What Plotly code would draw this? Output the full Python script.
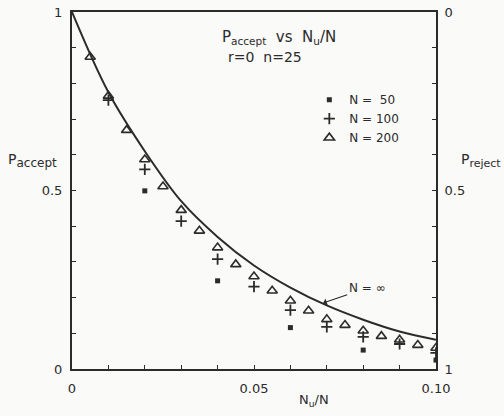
import plotly.graph_objects as go

# ---- data ----
x_200 = [0.005, 0.01, 0.015, 0.02, 0.025, 0.03, 0.035, 0.04, 0.045, 0.05,
         0.055, 0.06, 0.065, 0.07, 0.075, 0.08, 0.085, 0.09, 0.095, 0.10]
y_200 = [0.874, 0.765, 0.669, 0.587, 0.511, 0.445, 0.387, 0.340, 0.293, 0.259,
         0.219, 0.191, 0.163, 0.139, 0.123, 0.107, 0.092, 0.082, 0.067, 0.059]

x_100 = [0.01, 0.02, 0.03, 0.04, 0.05, 0.06, 0.07, 0.08, 0.09, 0.10]
y_100 = [0.753, 0.559, 0.414, 0.308, 0.231, 0.165, 0.118, 0.090, 0.070, 0.045]

x_50 = [0.02, 0.04, 0.06, 0.08, 0.10]
y_50 = [0.499, 0.247, 0.116, 0.053, 0.025]

curve_x = [0.0, 0.01, 0.02, 0.03, 0.04, 0.05, 0.06, 0.07, 0.08, 0.09, 0.10]
curve_y = [1.0, 0.775, 0.61, 0.47, 0.37, 0.29, 0.228, 0.178, 0.138, 0.105, 0.082]

x_tickvals = [0.0, 0.01, 0.02, 0.03, 0.04, 0.05, 0.06, 0.07, 0.08, 0.09, 0.10]
x_ticktext = ["0", "", "", "", "", "0.05", "", "", "", "", "0.10"]
y_tickvals = [0.0, 0.1, 0.2, 0.3, 0.4, 0.5, 0.6, 0.7, 0.8, 0.9, 1.0]
y_ticktext = ["0", "", "", "", "", "0.5", "", "", "", "", "1"]

ink = "#2b2b2b"
bg = "#fafaf8"
font_family = "DejaVu Sans, Liberation Sans, Arial, sans-serif"

fig = go.Figure()

fig.add_trace(go.Scatter(x=curve_x, y=curve_y, mode="lines", line=dict(color=ink, width=2, shape="spline"),
                         showlegend=False, hoverinfo="skip"))
fig.add_trace(go.Scatter(x=x_50, y=y_50, mode="markers", name="N =  50",
                         marker=dict(symbol="square", size=5, color=ink)))
fig.add_trace(go.Scatter(x=x_100, y=y_100, mode="markers", name="N = 100",
                         marker=dict(symbol="cross-thin", size=8, line=dict(color=ink, width=1.8), color=ink)))
fig.add_trace(go.Scatter(x=x_200, y=y_200, mode="markers", name="N = 200",
                         marker=dict(symbol="triangle-up-open", size=9, line=dict(color=ink, width=1.6), color=ink)))
# invisible trace to anchor right axis
fig.add_trace(go.Scatter(x=[curve_x[0]], y=[1 - curve_y[0]], yaxis="y2", mode="markers",
                         marker=dict(opacity=0), showlegend=False, hoverinfo="skip"))

axis_common = dict(showgrid=False, zeroline=False, showline=True, linecolor=ink, linewidth=2,
                   ticks="inside", ticklen=4, tickwidth=1, tickcolor=ink, automargin=False,
                   tickfont=dict(family=font_family, size=13, color=ink))

fig.update_layout(
    width=504, height=416,
    margin=dict(l=72, r=68, t=12, b=47, autoexpand=False),
    paper_bgcolor=bg, plot_bgcolor=bg,
    font=dict(family=font_family, size=12, color=ink),
    xaxis=dict(range=[0, 0.10], tickvals=x_tickvals, ticktext=x_ticktext, mirror=True,
               ticklabelstandoff=6, **axis_common),
    yaxis=dict(range=[0, 1], tickvals=y_tickvals, ticktext=y_ticktext, mirror=True,
               ticklabelstandoff=5, **axis_common),
    yaxis2=dict(range=[1, 0], tickvals=y_tickvals, ticktext=y_ticktext, overlaying="y", side="right",
                ticklabelstandoff=4, **axis_common),
    legend=dict(x=0.652, y=0.795, xanchor="left", yanchor="top", bgcolor="rgba(0,0,0,0)",
                font=dict(family=font_family, size=12, color=ink), tracegroupgap=0),
    showlegend=True,
)

fig.add_annotation(text="P<sub>accept</sub>&nbsp; vs &nbsp;N<sub>u</sub>/N", x=(279 - 72) / 364, y=(369 - 26) / 357,
                   xref="paper", yref="paper", showarrow=False, font=dict(size=15, color=ink))
fig.add_annotation(text="r=0  n=25", x=(265 - 72) / 364, y=(369 - 47) / 357,
                   xref="paper", yref="paper", showarrow=False, font=dict(size=14, color=ink))
fig.add_annotation(text="P<sub><span style='font-size:12px'>accept</span></sub>", x=(6 - 72) / 364, y=(369 - 160) / 357,
                   xref="paper", yref="paper", xanchor="left", showarrow=False, font=dict(size=14, color=ink))
fig.add_annotation(text="P<sub><span style='font-size:11px'>reject</span></sub>", x=(459 - 72) / 364, y=(369 - 160) / 357,
                   xref="paper", yref="paper", xanchor="left", showarrow=False, font=dict(size=14, color=ink))
fig.add_annotation(text="N<sub>u</sub>/N", x=(331 - 72) / 364, y=(369 - 411) / 357,
                   xref="paper", yref="paper", showarrow=False, font=dict(size=13, color=ink))
fig.add_annotation(text="N = ∞", x=0.069, y=0.185, xref="x", yref="y",
                   ax=44, ay=-15, showarrow=True, arrowhead=1, arrowsize=1, arrowwidth=1.2,
                   arrowcolor=ink, font=dict(size=12, color=ink))

fig.write_html("out.html")
